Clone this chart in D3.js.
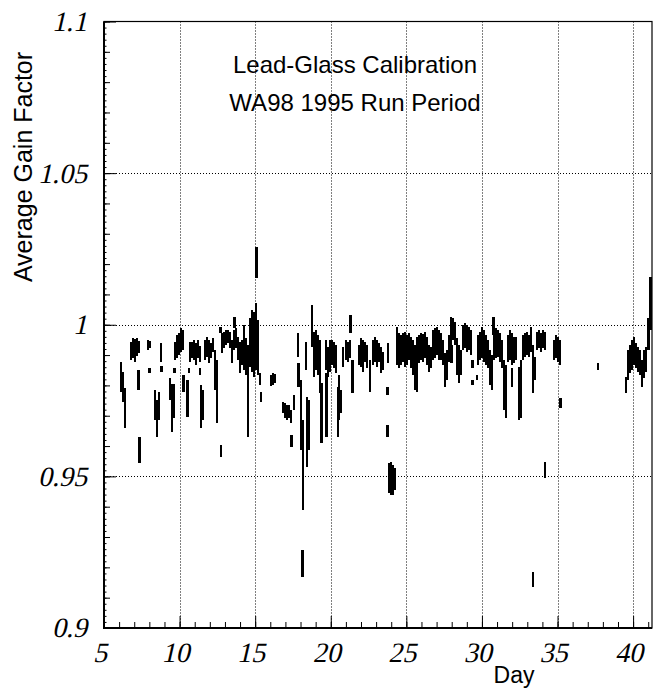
<!DOCTYPE html>
<html>
<head>
<meta charset="utf-8">
<script src="https://cdn.jsdelivr.net/npm/d3@7"></script>
<style>
  html, body { margin: 0; padding: 0; background: #fff; }
  svg { display: block; }
  .num text { font-family: "Liberation Serif", "Times New Roman", serif; font-size: 28px; }
</style>
</head>
<body>
<div id="chart"></div>
<script>
// each stroke: [day, lowest gain, highest gain]
const gainRanges = [
  [6.12, 0.9778, 0.9877], [6.26, 0.9745, 0.9844], [6.39, 0.9659, 0.9791],
  [6.79, 0.9884, 0.9943], [6.92, 0.9890, 0.9956], [7.05, 0.9877, 0.9953],
  [7.18, 0.9897, 0.9956], [7.31, 0.9907, 0.9946], [7.28, 0.9785, 0.9851],
  [7.35, 0.9544, 0.9629], [7.91, 0.9917, 0.9949], [8.04, 0.9923, 0.9946],
  [8.02, 0.9841, 0.9857], [8.37, 0.9686, 0.9785], [8.51, 0.9629, 0.9752],
  [8.64, 0.9686, 0.9778], [8.77, 0.9877, 0.9940], [8.80, 0.9844, 0.9864],
  [9.37, 0.9752, 0.9824], [9.50, 0.9646, 0.9805], [9.63, 0.9692, 0.9805],
  [9.66, 0.9841, 0.9857], [9.70, 0.9884, 0.9943], [9.83, 0.9890, 0.9966],
  [9.96, 0.9900, 0.9972], [10.09, 0.9910, 0.9989], [10.22, 0.9917, 0.9982],
  [10.26, 0.9778, 0.9834], [10.52, 0.9696, 0.9818], [10.62, 0.9841, 0.9857],
  [10.69, 0.9877, 0.9943], [10.82, 0.9890, 0.9943], [10.95, 0.9884, 0.9949],
  [11.08, 0.9867, 0.9940], [11.22, 0.9890, 0.9949], [11.35, 0.9877, 0.9930],
  [11.35, 0.9834, 0.9857], [11.42, 0.9659, 0.9801], [11.55, 0.9686, 0.9785],
  [11.68, 0.9884, 0.9949], [11.81, 0.9894, 0.9959], [11.94, 0.9874, 0.9949],
  [12.08, 0.9890, 0.9940], [12.21, 0.9910, 0.9956], [12.34, 0.9785, 0.9917],
  [12.47, 0.9676, 0.9884], [12.74, 0.9564, 0.9603], [12.72, 0.9972, 0.9992],
  [12.80, 0.9907, 0.9972], [12.94, 0.9923, 0.9976], [13.07, 0.9933, 0.9982],
  [13.20, 0.9940, 0.9982], [13.33, 0.9923, 0.9976], [13.47, 0.9874, 0.9949],
  [13.60, 0.9917, 0.9982], [13.64, 0.9989, 1.0025], [13.73, 0.9923, 0.9989],
  [13.86, 0.9884, 0.9959], [13.99, 0.9841, 0.9943], [14.13, 0.9867, 0.9949],
  [14.26, 0.9851, 0.9999], [14.39, 0.9834, 0.9956], [14.52, 0.9629, 0.9933],
  [14.66, 0.9861, 1.0022], [14.79, 0.9844, 1.0049], [14.92, 0.9828, 1.0042],
  [15.05, 0.9851, 1.0072], [15.09, 1.0154, 1.0256], [15.19, 0.9834, 1.0015],
  [15.32, 0.9801, 0.9841], [15.38, 0.9745, 0.9778],
  [16.05, 0.9798, 0.9834], [16.18, 0.9801, 0.9841], [16.31, 0.9808, 0.9838],
  [16.84, 0.9709, 0.9745], [16.97, 0.9692, 0.9742], [17.10, 0.9686, 0.9735],
  [17.24, 0.9692, 0.9735], [17.37, 0.9676, 0.9719], [17.40, 0.9597, 0.9636],
  [17.57, 0.9719, 0.9768], [17.83, 0.9894, 0.9972], [17.86, 0.9795, 0.9874],
  [18.03, 0.9587, 0.9818], [18.16, 0.9389, 0.9686], [18.14, 0.9168, 0.9257],
  [18.36, 0.9851, 0.9943], [18.43, 0.9531, 0.9762], [18.56, 0.9587, 0.9752],
  [18.76, 0.9926, 1.0065], [18.89, 0.9828, 0.9976], [19.02, 0.9851, 0.9982],
  [19.15, 0.9834, 0.9966], [19.29, 0.9775, 0.9949], [19.39, 0.9609, 0.9808],
  [19.68, 0.9851, 0.9949], [19.72, 0.9629, 0.9841], [19.81, 0.9828, 0.9926],
  [19.95, 0.9844, 0.9949], [20.08, 0.9867, 0.9949], [20.21, 0.9857, 0.9943],
  [20.34, 0.9841, 0.9933], [20.48, 0.9629, 0.9795], [20.54, 0.9686, 0.9834],
  [20.67, 0.9709, 0.9785], [20.81, 0.9861, 0.9926], [21.01, 0.9884, 0.9949],
  [21.14, 0.9877, 0.9943], [21.27, 0.9890, 0.9949], [21.32, 0.9972, 1.0032],
  [21.44, 0.9775, 0.9884], [21.87, 0.9867, 0.9933], [22.00, 0.9861, 0.9956],
  [22.13, 0.9844, 0.9949], [22.26, 0.9877, 0.9943], [22.39, 0.9857, 0.9933],
  [22.59, 0.9778, 0.9884], [22.79, 0.9867, 0.9949], [22.92, 0.9877, 0.9959],
  [23.06, 0.9861, 0.9949], [23.19, 0.9877, 0.9940], [23.32, 0.9841, 0.9926],
  [23.45, 0.9851, 0.9910], [23.78, 0.9874, 0.9940], [23.75, 0.9768, 0.9795],
  [23.75, 0.9629, 0.9669], [23.85, 0.9445, 0.9544], [23.98, 0.9438, 0.9547],
  [24.11, 0.9438, 0.9537], [24.25, 0.9455, 0.9527], [24.38, 0.9867, 0.9992],
  [24.51, 0.9857, 0.9972], [24.64, 0.9867, 0.9966], [24.78, 0.9877, 0.9972],
  [24.91, 0.9861, 0.9976], [25.04, 0.9867, 0.9966], [25.17, 0.9884, 0.9972],
  [25.30, 0.9857, 0.9959], [25.44, 0.9834, 0.9949], [25.57, 0.9785, 0.9933],
  [25.70, 0.9778, 0.9959], [25.83, 0.9874, 0.9966], [25.97, 0.9884, 0.9972],
  [26.10, 0.9877, 0.9969], [26.23, 0.9890, 0.9976], [26.36, 0.9867, 0.9959],
  [26.50, 0.9844, 0.9933], [26.63, 0.9857, 0.9926], [26.76, 0.9884, 0.9982],
  [26.89, 0.9890, 0.9989], [27.02, 0.9900, 0.9992], [27.16, 0.9884, 0.9982],
  [27.29, 0.9884, 0.9972], [27.42, 0.9867, 0.9949], [27.55, 0.9795, 0.9907],
  [27.69, 0.9818, 0.9917], [27.82, 0.9877, 0.9966], [27.95, 0.9933, 1.0025],
  [27.98, 0.9874, 0.9933], [28.08, 0.9949, 1.0022], [28.21, 0.9933, 1.0009],
  [28.35, 0.9834, 0.9956], [28.48, 0.9808, 0.9933], [28.61, 0.9834, 0.9917],
  [28.74, 0.9917, 0.9999], [28.88, 0.9923, 1.0006], [29.01, 0.9910, 0.9999],
  [29.14, 0.9917, 0.9992], [29.27, 0.9900, 0.9982], [29.37, 0.9857, 0.9884],
  [29.37, 0.9801, 0.9818], [29.67, 0.9818, 0.9834], [29.74, 0.9867, 0.9966],
  [29.87, 0.9884, 0.9976], [30.00, 0.9890, 0.9992], [30.13, 0.9877, 0.9982],
  [30.26, 0.9867, 0.9966], [30.40, 0.9857, 0.9949], [30.53, 0.9801, 0.9917],
  [30.66, 0.9785, 0.9900], [30.76, 0.9966, 1.0025], [30.79, 0.9884, 0.9982],
  [30.93, 0.9890, 0.9989], [31.06, 0.9894, 0.9982], [31.19, 0.9877, 0.9972],
  [31.32, 0.9857, 0.9949], [31.46, 0.9719, 0.9884], [31.59, 0.9692, 0.9867],
  [31.72, 0.9877, 0.9966], [31.85, 0.9884, 0.9982], [31.98, 0.9867, 0.9972],
  [31.98, 0.9795, 0.9857], [32.12, 0.9874, 0.9959], [32.25, 0.9884, 0.9959],
  [32.45, 0.9686, 0.9861], [32.58, 0.9692, 0.9884], [32.71, 0.9884, 0.9966],
  [32.84, 0.9894, 0.9972], [32.98, 0.9900, 0.9976], [33.11, 0.9894, 0.9966],
  [33.24, 0.9910, 0.9992], [33.37, 0.9775, 0.9933], [33.47, 0.9818, 0.9894],
  [33.39, 0.9135, 0.9184], [33.64, 0.9917, 0.9976], [33.77, 0.9923, 0.9982],
  [33.90, 0.9910, 0.9972], [34.03, 0.9923, 0.9982], [34.17, 0.9917, 0.9976],
  [34.17, 0.9494, 0.9547], [34.76, 0.9884, 0.9949], [34.89, 0.9890, 0.9966],
  [35.03, 0.9877, 0.9959], [35.16, 0.9867, 0.9949], [35.21, 0.9725, 0.9758],
  [37.67, 0.9851, 0.9874],
  [39.52, 0.9775, 0.9828], [39.66, 0.9818, 0.9917], [39.79, 0.9841, 0.9933],
  [39.92, 0.9851, 0.9949], [40.05, 0.9867, 0.9959], [40.19, 0.9857, 0.9940],
  [40.32, 0.9844, 0.9926], [40.45, 0.9834, 0.9917], [40.58, 0.9795, 0.9884],
  [40.71, 0.9824, 0.9917], [40.85, 0.9844, 0.9926], [41.01, 0.9917, 1.0022],
  [41.14, 0.9982, 1.0157]
];

const dayTicks = [5, 10, 15, 20, 25, 30, 35, 40];
const gainTicks = [0.9, 0.95, 1, 1.05, 1.1];
const gainTickLabels = ['0.9', '0.95', '1', '1.05', '1.1'];
const titleLines = ['Lead-Glass Calibration', 'WA98 1995 Run Period'];
const xTitle = 'Day';
const yTitle = 'Average Gain Factor';

const width = 656, height = 690;
const frame = { left: 104, right: 652, top: 21.5, bottom: 628 };
const textFont = '"Liberation Sans", Arial, Helvetica, sans-serif';

const svg = d3.select('#chart')
  .append('svg')
  .attr('width', width)
  .attr('height', height);

const x = d3.scaleLinear().domain([5, 41.25]).range([frame.left, frame.right]);
const y = d3.scaleLinear().domain([0.9, 1.1]).range([frame.bottom, frame.top]);

// dotted grid
const grid = svg.append('g')
  .attr('stroke', '#000')
  .attr('stroke-width', 1)
  .attr('stroke-dasharray', '1,2');

grid.selectAll('.vgrid')
  .data(dayTicks.filter(d => d > 5))
  .join('line')
    .attr('x1', d => Math.round(x(d)) + 0.5)
    .attr('x2', d => Math.round(x(d)) + 0.5)
    .attr('y1', frame.top)
    .attr('y2', frame.bottom);

grid.selectAll('.hgrid')
  .data(gainTicks.filter(d => d > 0.9 && d < 1.1))
  .join('line')
    .attr('y1', d => Math.round(y(d)) + 0.5)
    .attr('y2', d => Math.round(y(d)) + 0.5)
    .attr('x1', frame.left)
    .attr('x2', frame.right);

// data strokes
svg.append('g')
  .attr('fill', '#000')
  .attr('shape-rendering', 'crispEdges')
  .selectAll('rect')
  .data(gainRanges)
  .join('rect')
    .attr('x', d => x(d[0]) - 1.3)
    .attr('width', 2.6)
    .attr('y', d => y(d[2]))
    .attr('height', d => Math.max(1, y(d[1]) - y(d[2])));

// axes: ticks point into the frame
const xMinor = d3.axisBottom(x).ticks(36).tickSize(-6).tickFormat('');
const xMajor = d3.axisBottom(x).tickValues(dayTicks).tickSizeInner(-12).tickSizeOuter(0)
  .tickPadding(14).tickFormat(d3.format('d'));
const yMicro = d3.axisLeft(y).ticks(100).tickSize(-2.5).tickFormat('');
const yMinor = d3.axisLeft(y).ticks(20).tickSize(-6).tickFormat('');
const yMajor = d3.axisLeft(y).tickValues(gainTicks).tickSizeInner(-12).tickSizeOuter(0)
  .tickPadding(15).tickFormat((d, i) => gainTickLabels[i]);

// the serif face has no italic here, so slant the labels by hand
function styleAxis(g) {
  g.attr('class', 'num').attr('font-family', null).attr('font-size', null);
  g.select('.domain').remove();
  g.selectAll('line').attr('stroke', '#000').attr('stroke-width', 1);
  g.selectAll('text').each(function () {
    const t = d3.select(this);
    const tx = +t.attr('x') || 0;
    const ty = +t.attr('y') || 0;
    t.attr('x', null).attr('y', null)
      .attr('fill', '#000')
      .attr('transform', `translate(${tx},${ty}) skewX(-13)`);
  });
}

svg.append('g').attr('transform', `translate(0,${frame.bottom})`).call(xMinor).call(styleAxis);
svg.append('g').attr('transform', `translate(0,${frame.bottom})`).call(xMajor).call(styleAxis);
svg.append('g').attr('transform', `translate(${frame.left},0)`).call(yMicro).call(styleAxis);
svg.append('g').attr('transform', `translate(${frame.left},0)`).call(yMinor).call(styleAxis);
svg.append('g').attr('transform', `translate(${frame.left},0)`).call(yMajor).call(styleAxis);

// frame
svg.append('rect')
  .attr('x', frame.left)
  .attr('y', frame.top)
  .attr('width', frame.right - frame.left)
  .attr('height', frame.bottom - frame.top)
  .attr('fill', 'none')
  .attr('stroke', '#000')
  .attr('stroke-width', 1.2);

svg.append('line')
  .attr('x1', frame.left).attr('x2', frame.left)
  .attr('y1', frame.top).attr('y2', frame.bottom + 1)
  .attr('stroke', '#000').attr('stroke-width', 2);
svg.append('line')
  .attr('x1', frame.left - 1).attr('x2', frame.right)
  .attr('y1', frame.bottom).attr('y2', frame.bottom)
  .attr('stroke', '#000').attr('stroke-width', 2);

// titles
svg.append('g')
  .selectAll('text')
  .data(titleLines)
  .join('text')
    .attr('x', 355)
    .attr('y', (d, i) => 73 + i * 38)
    .attr('text-anchor', 'middle')
    .style('font-family', textFont)
    .style('font-size', '24px')
    .text(d => d);

svg.append('text')
  .attr('x', 514)
  .attr('y', 683)
  .attr('text-anchor', 'middle')
  .style('font-family', textFont)
  .style('font-size', '23px')
  .text(xTitle);

svg.append('text')
  .attr('transform', 'translate(32,167) rotate(-90)')
  .attr('text-anchor', 'middle')
  .style('font-family', textFont)
  .style('font-size', '25px')
  .text(yTitle);
</script>
</body>
</html>
